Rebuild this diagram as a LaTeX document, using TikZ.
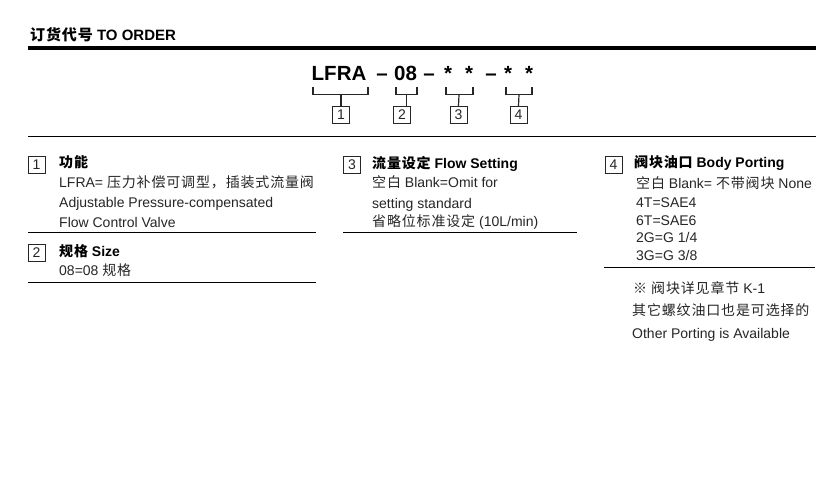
\documentclass[tikz,border=0pt]{standalone}
\usepackage{fontspec}
\setmainfont{Liberation Sans}
\newfontfamily\cjk[LetterSpace=6]{Noto Sans CJK SC}
\begin{document}
\begin{tikzpicture}[x=1pt,y=-1pt,
  txt/.style={anchor=base west, inner sep=0pt, text=black!85, font=\fontsize{14}{16}\selectfont},
  ttl/.style={anchor=base west, inner sep=0pt, text=black, font=\fontsize{14}{16}\selectfont\bfseries},
  code/.style={anchor=base, inner sep=0pt, text=black, font=\fontsize{20.5}{22}\selectfont\bfseries},
  numbox/.style={draw=black!85, line width=0.9pt, minimum width=17pt, minimum height=17pt, inner sep=0pt, text=black!85, font=\fontsize{14}{16}\selectfont},
  brk/.style={draw=black!85, line width=1.2pt},
  rule/.style={draw=black, line width=0.9pt}]
\fill[white] (0,0) rectangle (822,490);
\useasboundingbox (0,0) rectangle (822,490);

% heading
\node[anchor=base west, inner sep=0pt, font=\fontsize{15}{17}\selectfont\bfseries] (head) at (30,40) {{\cjk 订货代号} TO ORDER};
\draw[line width=4pt] (28,48) -- (816,48);

% order code
\node[code, anchor=base west] (cA) at (311.5,80) {LFRA};
\node[code] (d1) at (382,80) {–};
\node[code] (c08) at (405.5,80) {08};
\node[code] (d2) at (429,80) {–};
\node[code] (s1) at (448,80) {*};
\node[code] (s2) at (469,80) {*};
\node[code] (d3) at (491,80) {–};
\node[code] (s3) at (508,80) {*};
\node[code] (s4) at (529,80) {*};

% number boxes under code
\node[numbox] (b1) at (341,115) {1};
\node[numbox] (b2) at (402,115) {2};
\node[numbox] (b3) at (458.5,115) {3};
\node[numbox] (b4) at (518.5,115) {4};

\draw[brk] (313,87) -- (313,94.5) -- (368,94.5) -- (368,87);
\draw[brk] (341,94.5) -- (b1.north);
\draw[brk] (396,87) -- (396,94.5) -- (417,94.5) -- (417,87);
\coordinate (t2) at (406.5,94.5);
\draw[brk] (t2) -- (t2 |- b2.north);
\draw[brk] (446,87) -- (446,94.5) -- (473,94.5) -- (473,87);
\draw[brk] (459,94.5) -- (b3.north);
\draw[brk] (506,87) -- (506,94.5) -- (532,94.5) -- (532,87);
\draw[brk] (519,94.5) -- (b4.north);

\draw[rule] (28,136.5) -- (816,136.5);

% section 1
\node[numbox] (n1) at (36.5,164.5) {1};
\node[ttl] (t1) at (59,167) {{\cjk\bfseries 功能}};
\node[txt] (l11) at (59,187) {LFRA= {\cjk 压力补偿可调型，插装式流量阀}};
\node[txt] (l12) at (59,207.5) {Adjustable Pressure-compensated};
\node[txt] (l13) at (59,227) {Flow Control Valve};
\draw[rule] (28,232.5) -- (316,232.5);

% section 2
\node[numbox] (n2) at (36.5,252.5) {2};
\node[ttl] (t2t) at (59,256) {{\cjk\bfseries 规格} Size};
\node[txt] (l21) at (59,275) {08=08 {\cjk 规格}};
\draw[rule] (28,282.5) -- (316,282.5);

% section 3
\node[numbox] (n3) at (352,164.5) {3};
\node[ttl] (t3) at (372,168) {{\cjk\bfseries 流量设定} Flow Setting};
\node[txt] (l31) at (372,187) {{\cjk 空白} Blank=Omit for};
\node[txt] (l32) at (372,208) {setting standard};
\node[txt] (l33) at (372,226) {{\cjk 省略位标准设定} (10L/min)};
\draw[rule] (343,232.5) -- (577,232.5);

% section 4
\node[numbox] (n4) at (613.5,164.5) {4};
\node[ttl] (t4) at (634,167) {{\cjk\bfseries 阀块油口} Body Porting};
\node[txt] (l41) at (636,188) {{\cjk 空白} Blank= {\cjk 不带阀块} None};
\node[txt] (l42) at (636,207) {4T=SAE4};
\node[txt] (l43) at (636,225) {6T=SAE6};
\node[txt] (l44) at (636,242.5) {2G=G 1/4};
\node[txt] (l45) at (636,260.5) {3G=G 3/8};
\draw[rule] (604,267.5) -- (815,267.5);
\node[txt] (l46) at (633,293) {{\cjk ※ 阀块详见章节} K-1};
\node[txt] (l47) at (632,315) {{\cjk 其它螺纹油口也是可选择的}};
\node[txt] (l48) at (632,338) {Other Porting is Available};
\end{tikzpicture}
\end{document}
